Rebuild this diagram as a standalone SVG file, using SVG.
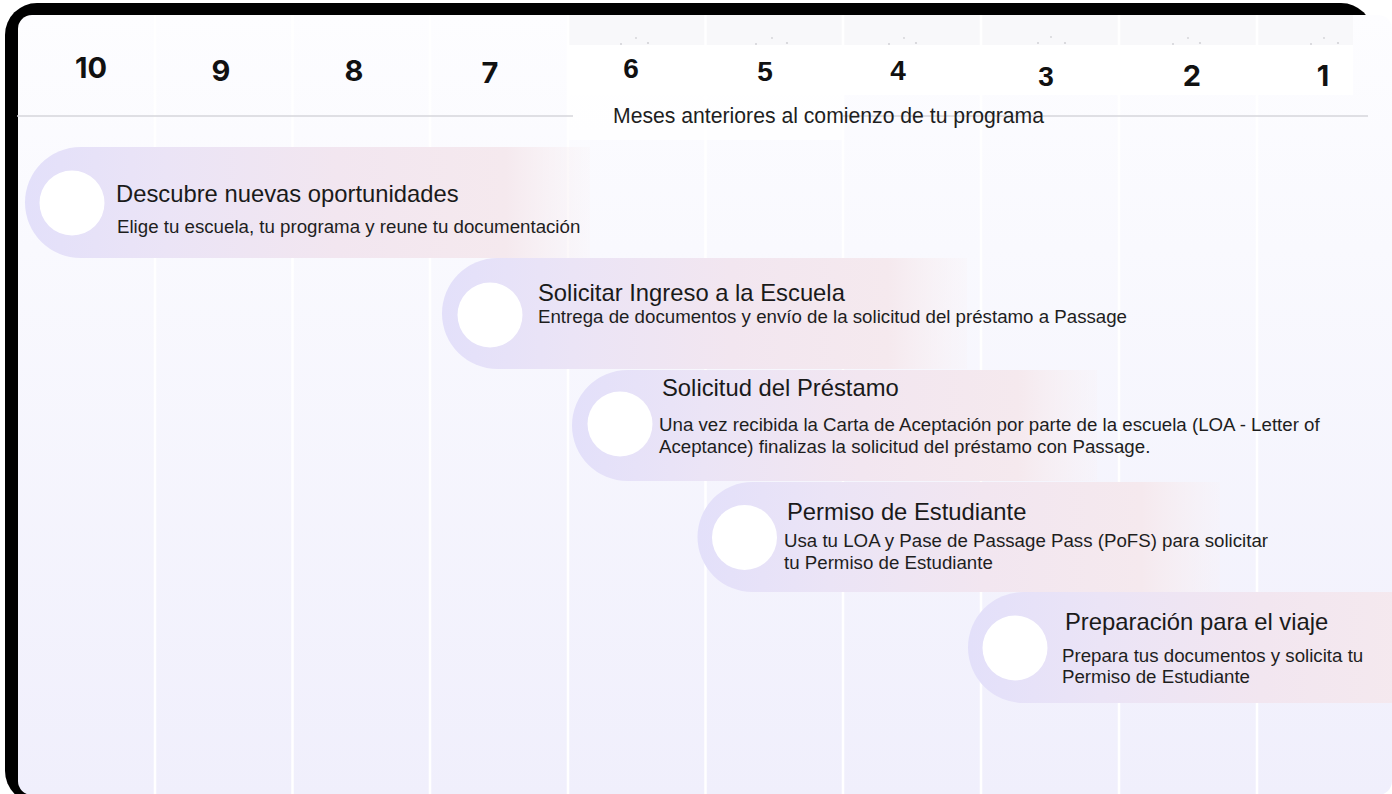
<svg xmlns="http://www.w3.org/2000/svg" width="1392" height="794" viewBox="0 0 1392 794">
<defs>
  <linearGradient id="cardBg" x1="0" y1="0" x2="0" y2="1">
    <stop offset="0" stop-color="#fdfdff"/>
    <stop offset="0.3" stop-color="#f9f9fe"/>
    <stop offset="1" stop-color="#f0effc"/>
  </linearGradient>
  <linearGradient id="pillGrad" x1="0" y1="0" x2="1" y2="0">
    <stop offset="0" stop-color="#e3e0fa"/>
    <stop offset="0.25" stop-color="#ebe4f6"/>
    <stop offset="0.55" stop-color="#f2e6f0"/>
    <stop offset="0.85" stop-color="#f5e9ee"/>
    <stop offset="1" stop-color="#f8eff2" stop-opacity="0.2"/>
  </linearGradient>
  <clipPath id="cardClip"><rect x="18" y="15" width="1374" height="780" rx="14"/></clipPath>
</defs>
<style>
  .num { font-family: Inter, "Liberation Sans", sans-serif; font-weight: 700; font-size: 29px; fill: #111; text-anchor: middle; }
  .num2 { font-family: "Liberation Sans", Arial, sans-serif; font-weight: 700; font-size: 28px; fill: #111; text-anchor: middle; }
  .title { font-family: "Liberation Sans", Arial, sans-serif; font-size: 23.8px; fill: #1a1a1a; }
  .desc { font-family: "Liberation Sans", Arial, sans-serif; font-size: 18.7px; fill: #1e1e1e; }
  .axis { font-family: "Liberation Sans", Arial, sans-serif; font-size: 21.2px; fill: #1e1e1e; }
  .pill { fill: url(#pillGrad); }
  .dot { fill: #ffffff; }
  .sep { stroke: #ffffff; stroke-width: 2.5; }
  .spark { fill: #d2d2d6; }
  .rule { stroke: #d6d6db; stroke-width: 1.5; }
</style>

<rect x="0" y="0" width="1392" height="794" fill="#ffffff"/>
<rect id="frame" x="5" y="3" width="1368" height="800" rx="32" fill="#000000"/>
<rect id="card" x="18" y="15" width="1374" height="780" rx="14" fill="url(#cardBg)"/>

<g id="grid" clip-path="url(#cardClip)">
  <rect x="568" y="15" width="785" height="30" fill="#f8f8fa"/>
  <rect x="568" y="45" width="785" height="50" fill="#ffffff"/>
  <rect x="568" y="95" width="275" height="45" fill="#ffffff" opacity="0.8"/>
  <line class="sep" x1="155" y1="15" x2="155" y2="794"/>
  <line class="sep" x1="292.5" y1="15" x2="292.5" y2="794"/>
  <line class="sep" x1="430" y1="15" x2="430" y2="794"/>
  <line class="sep" x1="568" y1="15" x2="568" y2="794"/>
  <line class="sep" x1="705.5" y1="15" x2="705.5" y2="794"/>
  <line class="sep" x1="843" y1="15" x2="843" y2="794"/>
  <line class="sep" x1="981" y1="15" x2="981" y2="794"/>
  <line class="sep" x1="1119" y1="15" x2="1119" y2="794"/>
  <line class="sep" x1="1257" y1="15" x2="1257" y2="794"/>
</g>

<g id="header">
  <g id="sparkles">
    <circle class="spark" cx="621" cy="44" r="1"/><circle class="spark" cx="636" cy="38" r="0.9"/><circle class="spark" cx="648" cy="43" r="1.1"/>
    <circle class="spark" cx="756" cy="44" r="1"/><circle class="spark" cx="772" cy="38" r="0.9"/><circle class="spark" cx="787" cy="43" r="1.1"/>
    <circle class="spark" cx="889" cy="44" r="1"/><circle class="spark" cx="904" cy="38" r="0.9"/><circle class="spark" cx="916" cy="43" r="1.1"/>
    <circle class="spark" cx="1038" cy="43" r="1"/><circle class="spark" cx="1051" cy="37" r="0.9"/><circle class="spark" cx="1065" cy="43" r="1.1"/>
    <circle class="spark" cx="1173" cy="44" r="1"/><circle class="spark" cx="1188" cy="38" r="0.9"/><circle class="spark" cx="1200" cy="43" r="1.1"/>
    <circle class="spark" cx="1311" cy="44" r="1"/><circle class="spark" cx="1324" cy="38" r="0.9"/><circle class="spark" cx="1338" cy="43" r="1.1"/>
  </g>
  <text class="num" x="91" y="78">10</text>
  <text class="num" x="221" y="81">9</text>
  <text class="num" x="354" y="81">8</text>
  <text class="num" x="490" y="83">7</text>
  <text class="num2" x="631" y="78">6</text>
  <text class="num2" x="765" y="81">5</text>
  <text class="num2" x="898" y="80">4</text>
  <text class="num2" x="1046" y="86">3</text>
  <text class="num" x="1192" y="86">2</text>
  <text class="num" x="1323" y="86">1</text>
  <line class="rule" x1="17" y1="116" x2="573" y2="116"/>
  <line class="rule" x1="843" y1="116" x2="1368" y2="116"/>
  <text class="axis" x="613" y="123">Meses anteriores al comienzo de tu programa</text>
</g>

<g id="connectors"></g>

<g id="nodes" clip-path="url(#cardClip)">
  <g id="node-1">
    <path class="pill" d="M80.5,147 H590 V258 H80.5 A55.5,55.5 0 0 1 80.5,147 Z"/>
    <circle class="dot" cx="72" cy="203" r="32.5"/>
    <text class="title" x="116" y="201.5">Descubre nuevas oportunidades</text>
    <text class="desc" x="117" y="233">Elige tu escuela, tu programa y reune tu documentación</text>
  </g>
  <g id="node-2">
    <path class="pill" d="M497.5,258 H967 V369 H497.5 A55.5,55.5 0 0 1 497.5,258 Z"/>
    <circle class="dot" cx="490" cy="315" r="32.5"/>
    <text class="title" x="538" y="301">Solicitar Ingreso a la Escuela</text>
    <text class="desc" x="538" y="323">Entrega de documentos y envío de la solicitud del préstamo a Passage</text>
  </g>
  <g id="node-3">
    <path class="pill" d="M627.5,370 H1097 V481 H627.5 A55.5,55.5 0 0 1 627.5,370 Z"/>
    <circle class="dot" cx="620" cy="424" r="32.5"/>
    <text class="title" x="662" y="396">Solicitud del Préstamo</text>
    <text class="desc" x="659" y="431">Una vez recibida la Carta de Aceptación por parte de la escuela (LOA - Letter of</text>
    <text class="desc" x="659" y="452.5">Aceptance) finalizas la solicitud del préstamo con Passage.</text>
  </g>
  <g id="node-4">
    <path class="pill" d="M752.5,482 H1220 V592 H752.5 A55,55 0 0 1 752.5,482 Z"/>
    <circle class="dot" cx="744.5" cy="537.5" r="32.5"/>
    <text class="title" x="787" y="520">Permiso de Estudiante</text>
    <text class="desc" x="784" y="547">Usa tu LOA y Pase de Passage Pass (PoFS) para solicitar</text>
    <text class="desc" x="784" y="568.5">tu Permiso de Estudiante</text>
  </g>
  <g id="node-5">
    <path class="pill" d="M1023.5,592 H1500 V703 H1023.5 A55.5,55.5 0 0 1 1023.5,592 Z"/>
    <circle class="dot" cx="1015" cy="648" r="32.5"/>
    <text class="title" x="1065" y="630">Preparación para el viaje</text>
    <text class="desc" x="1062" y="662">Prepara tus documentos y solicita tu</text>
    <text class="desc" x="1062" y="683">Permiso de Estudiante</text>
  </g>
</g>
</svg>
